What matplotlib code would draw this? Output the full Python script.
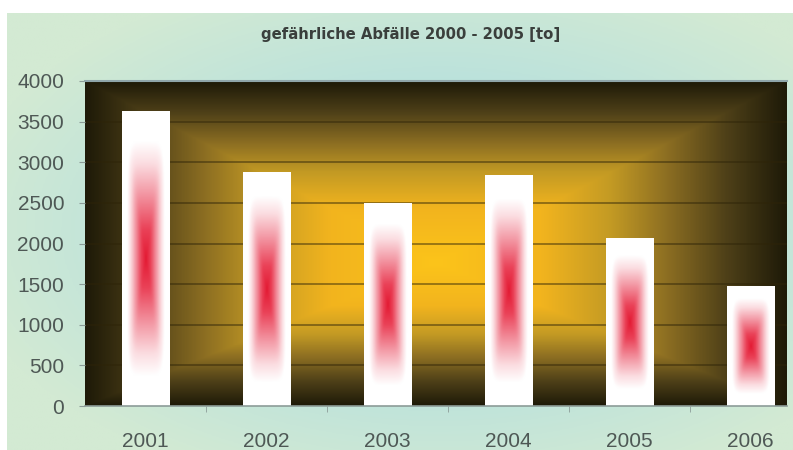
import numpy as np
from matplotlib import pyplot as plt
from matplotlib.colors import LinearSegmentedColormap

# Daten
jahre = ['2001', '2002', '2003', '2004', '2005', '2006']
abfaelle = [3620, 2870, 2490, 2840, 2060, 1470]
y_ticks = [0, 500, 1000, 1500, 2000, 2500, 3000, 3500, 4000]
titel = 'gefährliche Abfälle 2000 - 2005 [to]'

W, H = 793, 450
fig = plt.figure(figsize=(W / 100, H / 100), dpi=100, facecolor='white')

# hintergrund (grün -> cyan)
bg = fig.add_axes([7 / W, 0, (W - 7) / W, (H - 13) / H])
bg.set_axis_off()
yy, xx = np.mgrid[0:1:300j, 0:1:500j]
r = np.sqrt(((xx - 0.55) / 0.62) ** 2 + ((yy - 0.5) / 0.62) ** 2)
bg_cmap = LinearSegmentedColormap.from_list('bg', ['#a9dce2', '#b8e1dd', '#d3ead3'])
bg.imshow(np.clip(r, 0, 1), cmap=bg_cmap, aspect='auto', extent=[0, 1, 0, 1],
          vmin=0, vmax=1, interpolation='bilinear')
bg.set_xlim(0, 1)
bg.set_ylim(0, 1)

# plotbereich
left, right, top, bottom = 85, 787, 81, 406
ax = fig.add_axes([left / W, (H - bottom) / H, (right - left) / W, (bottom - top) / H])
x = np.arange(len(jahre))
xmin, xmax = -0.5, 5.3
ax.set_xlim(xmin, xmax)
ax.set_ylim(0, 4000)

# gradient vom zentrum (gelb -> schwarz)
cx, cy = 0.5, 0.44
gy, gx = np.mgrid[0:1:400j, 0:1:700j]
dx = np.where(gx < cx, (cx - gx) / cx, (gx - cx) / (1 - cx))
dy = np.where(gy < cy, (cy - gy) / cy, (gy - cy) / (1 - cy))
t = np.maximum(dx, dy)
pa_cmap = LinearSegmentedColormap.from_list(
    'pa', [(0, '#fcc41a'), (0.3, '#f2b41e'), (0.5, '#c39a24'),
           (0.66, '#8c6e22'), (0.83, '#4e4018'), (1, '#1e1a08')])
ax.imshow(t, cmap=pa_cmap, origin='lower', aspect='auto', vmin=0, vmax=1,
          extent=[xmin, xmax, 0, 4000], zorder=0, interpolation='bilinear')

ax.set_axisbelow(True)
ax.yaxis.grid(True, color='#2e2408', alpha=0.55, linewidth=1.2)
ax.xaxis.grid(False)

# balken mit rot/weiss verlauf
bars = ax.bar(x, abfaelle, width=0.39, color='white', edgecolor='#c8c8c8',
              linewidth=0.6, zorder=2)
by, bx = np.mgrid[-1:1:200j, -1:1:60j]
bt = (np.abs(bx) ** 6 + np.abs(by) ** 6) ** (1 / 6)
bar_cmap = LinearSegmentedColormap.from_list(
    'bar', [(0, '#e31a33'), (0.2, '#ea4258'), (0.45, '#f39aa6'),
            (0.65, '#fbdde1'), (0.8, '#ffffff'), (1, '#ffffff')])
for b in bars:
    x0, w, h = b.get_x(), b.get_width(), b.get_height()
    ax.imshow(bt, cmap=bar_cmap, vmin=0, vmax=1, aspect='auto',
              extent=[x0, x0 + w, 0, h], zorder=2.5, interpolation='bilinear')
ax.set_xlim(xmin, xmax)
ax.set_ylim(0, 4000)

# achsen
for s in ['left', 'right']:
    ax.spines[s].set_visible(False)
ax.spines['top'].set_color('#8fa6aa')
ax.spines['top'].set_linewidth(1.5)
ax.spines['bottom'].set_color('#8c9c98')
ax.spines['bottom'].set_linewidth(1.2)

ax.set_yticks(y_ticks)
ax.set_xticks(x)
ax.set_xticklabels(jahre)
ax.set_xticks(np.arange(len(jahre) - 1) + 0.5, minor=True)
ax.tick_params(axis='y', length=4, color='#8c9c98', pad=11,
               labelsize=15, labelcolor='#4e5855')
ax.tick_params(axis='x', which='major', length=0, pad=19,
               labelsize=15, labelcolor='#4e5855')
ax.tick_params(axis='x', which='minor', length=4, color='#8c9c98')
for lab in ax.get_xticklabels() + ax.get_yticklabels():
    lab.set_fontfamily('Liberation Sans')

fig.text(411 / W, 1 - 34 / H, titel, ha='center', va='center',
         fontsize=10.7, fontweight='bold', color='#3a3f3c', family='DejaVu Sans')

fig.savefig('out.png', dpi=100, facecolor='white')
